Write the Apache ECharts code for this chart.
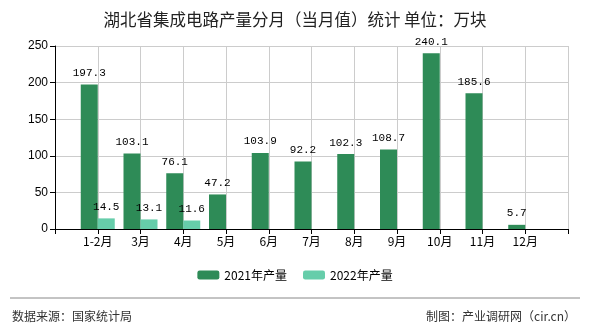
<!DOCTYPE html>
<html><head><meta charset="utf-8">
<script src="https://cdn.jsdelivr.net/npm/echarts@6/dist/echarts.min.js"></script>
<style>html,body{margin:0;padding:0;background:#fff}#c{width:590px;height:330px}</style>
</head><body><div id="c"></div>
<script>
const categories = ["1-2月","3月","4月","5月","6月","7月","8月","9月","10月","11月","12月"];
const values2021 = [197.3,103.1,76.1,47.2,103.9,92.2,102.3,108.7,240.1,185.6,5.7];
const values2022 = [14.5,13.1,11.6,null,null,null,null,null,null,null,null];
const seriesNames = ["2021年产量","2022年产量"];
const yTicks = {min:0,max:250,interval:50};

const cats = [""].concat(categories).concat([""]);
const pad = a => [null].concat(a).concat([null]);
const labelFont = {fontFamily:"Liberation Mono, monospace", fontSize:11, color:"#000"};
const chart = echarts.init(document.getElementById('c'));
chart.setOption({
  animation:false,
  backgroundColor:'#fff',
  title:{text:"湖北省集成电路产量分月（当月值）统计 单位：万块",left:'center',top:6,
    textStyle:{fontFamily:"Noto Sans CJK SC",fontSize:16.5,fontWeight:'normal',color:'#222'}},
  legend:{data:seriesNames,bottom:44,left:'center',itemWidth:22,itemHeight:9,itemGap:16,
    textStyle:{fontFamily:"Noto Sans CJK SC",fontSize:12,color:'#000'}},
  grid:{left:55,right:22,top:46,bottom:101,containLabel:false},
  xAxis:{type:'category',data:cats,boundaryGap:false,
    axisLine:{lineStyle:{color:'#000'}},
    axisTick:{show:true,length:5,lineStyle:{color:'#000'}},
    axisLabel:{interval:0,fontFamily:"Noto Sans CJK SC",fontSize:12,color:'#000',margin:6},
    splitLine:{show:true,lineStyle:{color:'#ccc'}}},
  yAxis:{type:'value',min:yTicks.min,max:yTicks.max,interval:yTicks.interval,
    axisLine:{show:true,lineStyle:{color:'#000'}},
    axisTick:{show:true,length:5,lineStyle:{color:'#000'}},
    axisLabel:{fontFamily:"Liberation Sans, sans-serif",fontSize:12,color:'#000',margin:7},
    splitLine:{lineStyle:{color:'#ccc'}}},
  series:[
    {name:seriesNames[0],type:'bar',data:pad(values2021),barWidth:17,barGap:'0%',
     itemStyle:{color:'#2E8B57'},
     label:{show:true,position:'top',distance:6,...labelFont}},
    {name:seriesNames[1],type:'bar',data:pad(values2022),barWidth:17,barGap:'0%',
     itemStyle:{color:'#66CDAA'},
     label:{show:true,position:'top',distance:6,...labelFont}}
  ],
  graphic:[
    {type:'line',shape:{x1:10,y1:298,x2:580,y2:298},style:{stroke:'#888',lineWidth:1}},
    {type:'text',left:12,top:310,style:{text:"数据来源：国家统计局",font:"12px 'Noto Sans CJK SC'",fill:'#333'}},
    {type:'text',right:14,top:310,style:{text:"制图：产业调研网（cir.cn）",font:"12px 'Noto Sans CJK SC'",fill:'#333'}}
  ]
});
</script></body></html>
